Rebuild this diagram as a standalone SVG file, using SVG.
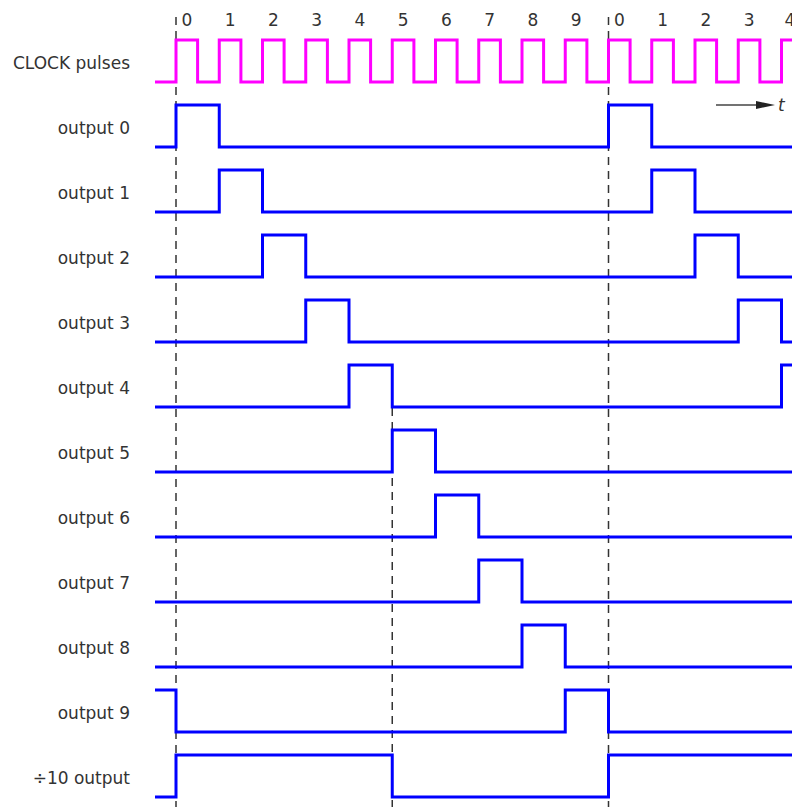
<svg xmlns="http://www.w3.org/2000/svg" width="792" height="810" viewBox="0 0 792 810">
<style>
.lbl{font-family:"DejaVu Sans","Liberation Sans",sans-serif;font-size:17px;fill:#333;text-anchor:end}
.num{font-family:"DejaVu Sans","Liberation Sans",sans-serif;font-size:17px;fill:#333;text-anchor:middle}
.clk{fill:none;stroke:#ff00ff;stroke-width:3}
.wave{fill:none;stroke:#0000ff;stroke-width:3}
.dash{stroke:#333;stroke-width:1.5;stroke-dasharray:8 6}
</style>
<rect width="792" height="810" fill="#fff"/>
<g id="connectors">
<line class="dash" x1="176" y1="17" x2="176" y2="807"/>
<line class="dash" x1="392.25" y1="408" x2="392.25" y2="807"/>
<line class="dash" x1="608.5" y1="17" x2="608.5" y2="807"/>
<line x1="716" y1="105" x2="760" y2="105" stroke="#444" stroke-width="1.5"/>
<polygon points="756,101 775,105 756,109" fill="#222"/>
<text x="778" y="111" font-family="DejaVu Sans, sans-serif" font-size="17" font-style="italic" fill="#333">t</text>
</g>
<g id="counts">
<text class="num" x="187" y="26">0</text>
<text class="num" x="230.25" y="26">1</text>
<text class="num" x="273.5" y="26">2</text>
<text class="num" x="316.75" y="26">3</text>
<text class="num" x="360" y="26">4</text>
<text class="num" x="403.25" y="26">5</text>
<text class="num" x="446.5" y="26">6</text>
<text class="num" x="489.75" y="26">7</text>
<text class="num" x="533" y="26">8</text>
<text class="num" x="576.25" y="26">9</text>
<text class="num" x="619.5" y="26">0</text>
<text class="num" x="662.75" y="26">1</text>
<text class="num" x="706" y="26">2</text>
<text class="num" x="749.25" y="26">3</text>
<text class="num" x="790" y="26">4</text>
</g>
<g id="clock">
<text class="lbl" x="130" y="69">CLOCK pulses</text>
<path class="clk" d="M155,82 H176 V40 H197.6 V82 H219.25 V40 H240.9 V82 H262.5 V40 H284.1 V82 H305.75 V40 H327.4 V82 H349 V40 H370.6 V82 H392.25 V40 H413.9 V82 H435.5 V40 H457.1 V82 H478.75 V40 H500.4 V82 H522 V40 H543.6 V82 H565.25 V40 H586.9 V82 H608.5 V40 H630.1 V82 H651.75 V40 H673.4 V82 H695 V40 H716.6 V82 H738.25 V40 H759.9 V82 H781.5 V40 H792"/>
</g>
<g id="output0">
<text class="lbl" x="130" y="134">output 0</text>
<path class="wave" d="M155,147 H176 V105 H219.25 V147 H608.5 V105 H651.75 V147 H792"/>
</g>
<g id="output1">
<text class="lbl" x="130" y="199">output 1</text>
<path class="wave" d="M155,212 H219.25 V170 H262.5 V212 H651.75 V170 H695 V212 H792"/>
</g>
<g id="output2">
<text class="lbl" x="130" y="264">output 2</text>
<path class="wave" d="M155,277 H262.5 V235 H305.75 V277 H695 V235 H738.25 V277 H792"/>
</g>
<g id="output3">
<text class="lbl" x="130" y="329">output 3</text>
<path class="wave" d="M155,342 H305.75 V300 H349 V342 H738.25 V300 H781.5 V342 H792"/>
</g>
<g id="output4">
<text class="lbl" x="130" y="394">output 4</text>
<path class="wave" d="M155,407 H349 V365 H392.25 V407 H781.5 V365 H792"/>
</g>
<g id="output5">
<text class="lbl" x="130" y="459">output 5</text>
<path class="wave" d="M155,472 H392.25 V430 H435.5 V472 H792"/>
</g>
<g id="output6">
<text class="lbl" x="130" y="524">output 6</text>
<path class="wave" d="M155,537 H435.5 V495 H478.75 V537 H792"/>
</g>
<g id="output7">
<text class="lbl" x="130" y="589">output 7</text>
<path class="wave" d="M155,602 H478.75 V560 H522 V602 H792"/>
</g>
<g id="output8">
<text class="lbl" x="130" y="654">output 8</text>
<path class="wave" d="M155,667 H522 V625 H565.25 V667 H792"/>
</g>
<g id="output9">
<text class="lbl" x="130" y="719">output 9</text>
<path class="wave" d="M155,690 H176 V732 H565.25 V690 H608.5 V732 H792"/>
</g>
<g id="div10">
<text class="lbl" x="130" y="784">÷10 output</text>
<path class="wave" d="M155,797 H176 V755 H392.25 V797 H608.5 V755 H792"/>
</g>
</svg>
